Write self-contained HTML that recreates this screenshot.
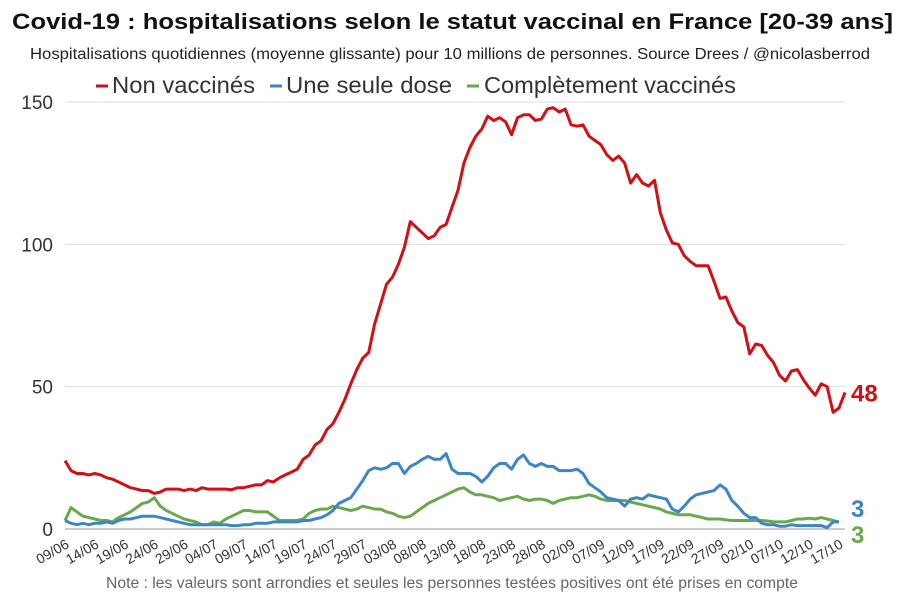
<!DOCTYPE html>
<html><head><meta charset="utf-8"><style>
body{margin:0;background:#fff;font-family:"Liberation Sans",sans-serif}
svg{display:block}
</style></head><body>
<svg id="c" width="903" height="600">
<text x="12" y="29" textLength="881" lengthAdjust="spacingAndGlyphs" font-size="22" font-weight="bold" fill="#111">Covid-19 : hospitalisations selon le statut vaccinal en France [20-39 ans]</text>
<text x="30" y="59" textLength="840" lengthAdjust="spacingAndGlyphs" font-size="15.5" fill="#222">Hospitalisations quotidiennes (moyenne glissante) pour 10 millions de personnes. Source Drees / @nicolasberrod</text>
<g font-size="23" fill="#333">
<g><line x1="96" y1="86" x2="108" y2="86" stroke="#d40f14" stroke-width="3"/><text x="112" y="93" textLength="143" lengthAdjust="spacingAndGlyphs">Non vaccinés</text></g>
<g><line x1="270" y1="86" x2="282" y2="86" stroke="#3d85c6" stroke-width="3"/><text x="286" y="93" textLength="166" lengthAdjust="spacingAndGlyphs">Une seule dose</text></g>
<g><line x1="467" y1="86" x2="479" y2="86" stroke="#6aa84f" stroke-width="3"/><text x="484" y="93" textLength="252" lengthAdjust="spacingAndGlyphs">Complètement vaccinés</text></g>
</g>
<text x="106" y="588" textLength="692" lengthAdjust="spacingAndGlyphs" font-size="15.5" fill="#666">Note : les valeurs sont arrondies et seules les personnes testées positives ont été prises en compte</text>
</svg>
<script>
const yTicks=[0,50,100,150];
const xLabels=["09/06","14/06","19/06","24/06","29/06","04/07","09/07","14/07","19/07","24/07","29/07","03/08","08/08","13/08","18/08","23/08","28/08","02/09","07/09","12/09","17/09","22/09","27/09","02/10","07/10","12/10","17/10"];
const nonVax=[24,20.5,19.5,19.5,19,19.5,19,18,17.5,16.5,15.5,14.5,14,13.5,13.5,12.5,13,14,14,14,13.5,14,13.5,14.5,14,14,14,14,13.8,14.5,14.5,15,15.5,15.5,17,16.5,18,19,20,21,24.5,26,29.5,31,35,37,41,45.5,51,56,60,62,72,79,86,88.5,93,99,108,106,104,102,103,106,107,113,119,128.5,134,138,140.5,145,143.5,144.5,143,138.5,144.5,145.5,145.5,143.5,144,147.5,148,146.5,147.5,142,141.5,142,138,136.5,135,131.5,129.5,131,128.5,121.5,124.5,121.5,120.5,122.5,111,105,100.5,100,96,94,92.5,92.5,92.5,87,81,81.5,76.5,72.5,71,61.5,65,64.5,61,58.5,54,52,55.5,56,52.5,49.5,47,51,50,41,42.5,48];
const oneDose=[3,2,1.5,2,1.5,2,2,2.5,2,3,3.5,3.5,4,4.5,4.5,4.5,4,3.5,3,2.5,2,1.5,1.5,1.5,1.5,1.5,1.5,1.5,1.2,1.2,1.5,1.5,2,2,2,2.5,2.5,2.5,2.5,2.5,3,3,3.5,4,5,6.5,9,10,11,14,17,20.5,21.5,21,21.5,23,23,19.5,22,23,24.5,25.5,24.5,24.5,26.5,21,19.5,19.5,19.5,18.5,16.5,18.5,21.5,23,23,21,24.5,26,23,22,23,22,22,20.5,20.5,20.5,21,19.5,16,14.5,13,11,10.5,10,8,10.5,11,10.5,12,11.5,11,10.5,7,6,8,10.5,12,12.5,13,13.5,15.5,14,10,8,5.5,4,4,2,1.5,1.5,1,1,1.5,1.2,1.2,1.2,1.2,1.2,0.5,2.5,2.5];
const fullVax=[3,7.5,6,4.5,4,3.5,3,3,2.5,4,5,6,7.5,9,9.5,11,8,6.5,5.5,4.5,3.5,3,2.5,1.5,1.5,2.5,2,3.5,4.5,5.5,6.5,6.5,6,6,6,4.5,3,3,3,3,3.5,5.5,6.5,7,7,8,7.5,7,6.5,7,8,7.5,7,7,6,5.5,4.5,4,4.5,6,7.5,9,10,11,12,13,14,14.5,13,12,12,11.5,11,10,10.5,11,11.5,10.5,10,10.5,10.5,10,9,10,10.5,11,11,11.5,12,11.5,10.5,10,10,10,10,9.5,9,8.5,8,7.5,7,6,5.5,5,5,5,4.5,4,3.5,3.5,3.5,3.2,3,3,3,3,3,3,2.8,2.5,2.5,2.5,3,3.5,3.5,3.8,3.5,4,3.5,3,2.5];
const endLabels=["48","3","3"];

const svg=document.getElementById('c');const NS='http://www.w3.org/2000/svg';
const X0=65,X1=845,Y0=529,Y150=102;
const xs=d=>X0+(X1-X0)*d/(nonVax.length-1);
const ys=v=>Y0-(Y0-Y150)*v/150;
function mk(t,a){const e=document.createElementNS(NS,t);for(const k in a)e.setAttribute(k,a[k]);svg.appendChild(e);return e;}
yTicks.forEach(v=>{
 const l=mk('line',{x1:X0,x2:X1,y1:ys(v),y2:ys(v),stroke:v===0?'#999':'#ddd','stroke-width':1});
 
 
 const t=mk('text',{x:53,y:ys(v)+7,'text-anchor':'end','font-size':19,fill:'#333'});
 t.textContent=v;
 
 
});
xLabels.forEach((s,i)=>{
 const x=xs(i*5),y=Y0+12;
 const t=mk('text',{x:x+5,y:y+6,'text-anchor':'end','font-size':14,fill:'#333',transform:`rotate(-30 ${x+5} ${y+6})`});
 t.textContent=s;
 
 
});
const series=[[fullVax,'#6aa84f','line-complet'],[oneDose,'#3d85c6','line-une-dose'],[nonVax,'#d40f14','line-non-vaccines']];
series.forEach(([d,c,n])=>{
 const p=mk('path',{d:d.map((v,i)=>(i?'L':'M')+xs(i).toFixed(1)+','+ys(v).toFixed(1)).join(''),fill:'none',stroke:c,'stroke-width':3,'stroke-linejoin':'round'});
 
 
});
const endPos=[[ys(nonVax[nonVax.length-1])+9,'#d40f14','end-label-non-vaccines'],[517,'#3d85c6','end-label-une-dose'],[543,'#6aa84f','end-label-complet']];
endPos.forEach(([y,c,n],i)=>{
 const t=mk('text',{x:851,y:y,'font-size':24,'font-weight':'bold',fill:c});
 t.textContent=endLabels[i];
 
 
});
</script>
</body></html>
